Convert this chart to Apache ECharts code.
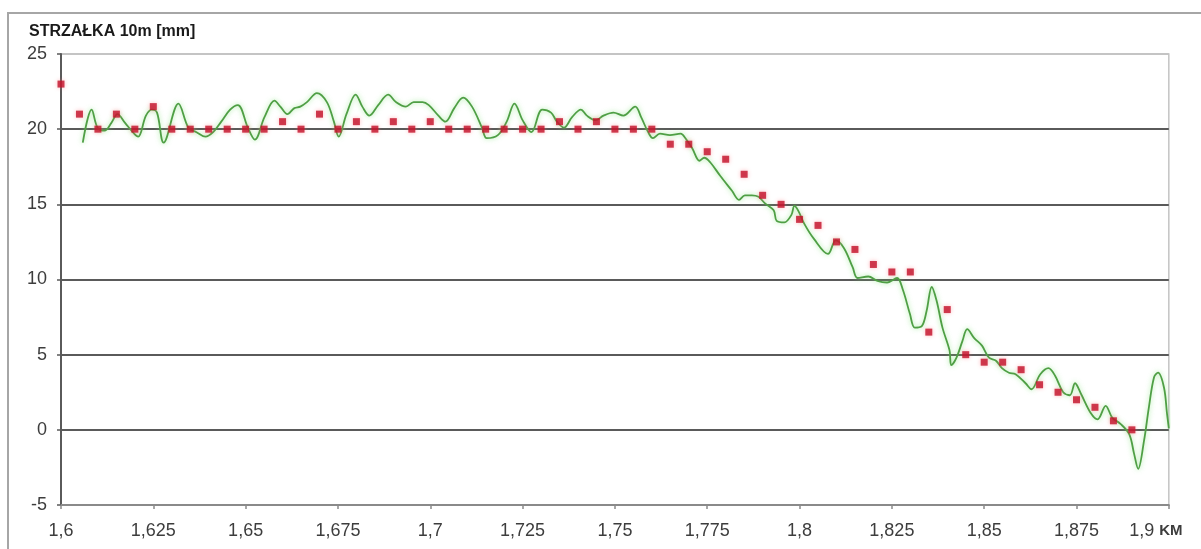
<!DOCTYPE html>
<html>
<head>
<meta charset="utf-8">
<script src="https://cdn.jsdelivr.net/npm/echarts@6/dist/echarts.min.js"></script>
<style>
  html, body { margin: 0; padding: 0; background: #fff; }
  #chart { width: 1201px; height: 549px; }
</style>
</head>
<body>
<div id="chart"></div>
<script>
// Design versine on a 10 m chord: point values every 5 m
const designKm = [
  1.600, 1.605, 1.610, 1.615, 1.620, 1.625, 1.630, 1.635, 1.640, 1.645,
  1.650, 1.655, 1.660, 1.665, 1.670, 1.675, 1.680, 1.685, 1.690, 1.695,
  1.700, 1.705, 1.710, 1.715, 1.720, 1.725, 1.730, 1.735, 1.740, 1.745,
  1.750, 1.755, 1.760, 1.765, 1.770, 1.775, 1.780, 1.785, 1.790, 1.795,
  1.800, 1.805, 1.810, 1.815, 1.820, 1.825, 1.830, 1.835, 1.840, 1.845,
  1.850, 1.855, 1.860, 1.865, 1.870, 1.875, 1.880, 1.885, 1.890
];
const designMm = [
  23, 21, 20, 21, 20, 21.5, 20, 20, 20, 20,
  20, 20, 20.5, 20, 21, 20, 20.5, 20, 20.5, 20,
  20.5, 20, 20, 20, 20, 20, 20, 20.5, 20, 20.5,
  20, 20, 20, 19, 19, 18.5, 18, 17, 15.6, 15,
  14, 13.6, 12.5, 12, 11, 10.5, 10.5, 6.5, 8, 5,
  4.5, 4.5, 4, 3, 2.5, 2, 1.5, 0.6, 0
];

// Measured versine trace
const measuredKm = [
  1.6059, 1.6083, 1.6099, 1.6118, 1.6136, 1.6153, 1.6174, 1.6198, 1.6209, 1.6230,
  1.6246, 1.6260, 1.6278, 1.6318, 1.6345, 1.6367, 1.6391, 1.6412, 1.6434, 1.6458,
  1.6479, 1.6506, 1.6525, 1.6551, 1.6578, 1.6594, 1.6613, 1.6632, 1.6648, 1.6666,
  1.6693, 1.6720, 1.6739, 1.6752, 1.6773, 1.6798, 1.6816, 1.6835, 1.6859, 1.6886,
  1.6907, 1.6934, 1.6955, 1.6979, 1.6996, 1.7022, 1.7041, 1.7065, 1.7089, 1.7113,
  1.7140, 1.7153, 1.7183, 1.7207, 1.7228, 1.7250, 1.7274, 1.7303, 1.7327, 1.7343,
  1.7362, 1.7384, 1.7408, 1.7424, 1.7448, 1.7469, 1.7496, 1.7523, 1.7555, 1.7571,
  1.7590, 1.7603, 1.7622, 1.7649, 1.7678, 1.7691, 1.7710, 1.7729, 1.7742, 1.7758,
  1.7785, 1.7817, 1.7836, 1.7852, 1.7871, 1.7889, 1.7905, 1.7930, 1.7938, 1.7959,
  1.7978, 1.7986, 1.7996, 1.8013, 1.8039, 1.8077, 1.8098, 1.8120, 1.8144, 1.8157,
  1.8186, 1.8211, 1.8237, 1.8264, 1.8280, 1.8299, 1.8312, 1.8331, 1.8344, 1.8358,
  1.8371, 1.8387, 1.8406, 1.8411, 1.8425, 1.8441, 1.8454, 1.8473, 1.8494, 1.8513,
  1.8532, 1.8548, 1.8567, 1.8585, 1.8612, 1.8628, 1.8652, 1.8674, 1.8692, 1.8714,
  1.8732, 1.8746, 1.8762, 1.8789, 1.8807, 1.8829, 1.8847, 1.8869, 1.8893, 1.8906,
  1.8917, 1.8933, 1.8946, 1.8960, 1.8971, 1.8987, 1.8995, 1.9000
];
const measuredMm = [
  19.1, 21.3, 20.1, 19.9, 20.4, 21.0, 20.4, 19.7, 19.5, 20.9,
  21.3, 21.1, 19.1, 21.7, 20.1, 19.8, 19.5, 19.8, 20.5, 21.3,
  21.6, 20.1, 19.3, 20.8, 21.9, 21.5, 21.0, 21.4, 21.5, 21.8,
  22.4, 21.8, 20.5, 19.5, 21.0, 22.3, 21.5, 20.9, 21.6, 22.3,
  21.8, 21.5, 21.8, 21.8, 21.6, 20.9, 20.5, 21.4, 22.1, 21.5,
  20.1, 19.4, 19.6, 20.5, 21.7, 20.6, 19.8, 21.3, 21.1, 20.5,
  20.1, 20.8, 21.3, 20.9, 20.6, 20.9, 21.1, 20.9, 21.5, 20.8,
  19.8, 19.4, 19.7, 19.6, 19.7, 19.4, 18.7, 17.9, 18.1, 17.8,
  16.9, 15.9, 15.3, 15.6, 15.6, 15.5, 15.1, 14.6, 13.9, 13.8,
  14.3, 14.9, 14.6, 13.7, 12.7, 11.7, 12.6, 12.1, 10.8, 10.1,
  10.2, 9.9, 9.8, 10.1, 9.3, 7.7, 6.8, 6.9, 7.9, 9.5,
  8.6, 6.8, 5.3, 4.3, 4.8, 5.9, 6.7, 6.1, 5.6, 4.8,
  4.6, 4.1, 3.8, 3.7, 3.1, 2.7, 3.7, 4.1, 3.6, 2.5,
  2.3, 3.1, 2.4, 1.1, 0.7, 1.6, 0.8, 0.4, -0.3, -1.6,
  -2.6, -0.7, 1.5, 3.5, 3.8, 2.8, 1.1, 0.1
];

const yTicks = [-5, 0, 5, 10, 15, 20, 25];
const titleText = 'STRZAŁKA 10m [mm]';
const unitText = 'KM';

const pair = (xs, ys) => xs.map((x, i) => [x, ys[i]]);
const kmLabel = v => String(Number(v.toFixed(3))).replace('.', ',');

const chart = echarts.init(document.getElementById('chart'), null, { renderer: 'canvas' });

chart.setOption({
  animation: false,
  backgroundColor: '#ffffff',
  textStyle: { fontFamily: 'Liberation Sans, Arial, sans-serif' },
  title: {
    text: titleText,
    left: 24,
    top: 19,
    textStyle: { fontSize: 16, fontWeight: 'bold', color: '#1a1a1a', fontFamily: 'Liberation Sans, Arial, sans-serif' }
  },
  graphic: [{
    type: 'rect',
    silent: true,
    shape: { x: 8, y: 13, width: 1300, height: 700 },
    style: { fill: 'none', stroke: '#a6a6a6', lineWidth: 2 },
    z: -1
  }],
  grid: {
    left: 61, right: 19, top: 54, bottom: 44,
    show: true, borderColor: '#c4c4c4', borderWidth: 1.5, backgroundColor: 'transparent'
  },
  xAxis: {
    type: 'value',
    min: 1.6, max: 1.9, interval: 0.025,
    axisLine: { show: true, onZero: false, lineStyle: { color: '#8a8a8a', width: 2 } },
    axisTick: { show: true, length: 4, lineStyle: { color: '#8a8a8a', width: 1.5 } },
    splitLine: { show: false },
    axisLabel: {
      margin: 17,
      fontSize: 18,
      color: '#3d3d3d',
      formatter: v => Math.abs(v - 1.9) < 1e-9 ? kmLabel(v) + ' {km|' + unitText + '}{pad| }' : kmLabel(v),
      rich: {
        km: { fontSize: 15, fontWeight: 'bold', color: '#3d3d3d', padding: [0, 0, 1, 0] },
        pad: { width: 26 }
      }
    }
  },
  yAxis: {
    type: 'value',
    min: yTicks[0], max: yTicks[yTicks.length - 1], interval: 5,
    axisLine: { show: true, lineStyle: { color: '#5a5a5a', width: 2 } },
    axisTick: { show: true, length: 4, lineStyle: { color: '#5a5a5a', width: 1.5 } },
    splitLine: {
      show: true,
      lineStyle: { color: ['#8a8a8a', '#5a5a5a', '#5a5a5a', '#5a5a5a', '#5a5a5a', '#5a5a5a', '#c4c4c4'], width: 2 }
    },
    axisLabel: { margin: 14, fontSize: 18, color: '#3d3d3d' }
  },
  series: [
    {
      name: 'pomiar',
      type: 'line',
      data: pair(measuredKm, measuredMm),
      smooth: 0.35,
      showSymbol: false,
      lineStyle: {
        color: '#4f9f45', width: 1.8,
        shadowColor: 'rgba(120, 225, 110, 0.7)', shadowBlur: 5
      },
      z: 2
    },
    {
      name: 'projekt',
      type: 'scatter',
      data: pair(designKm, designMm),
      symbol: 'rect',
      symbolSize: 7,
      itemStyle: {
        color: '#c20f28',
        shadowColor: 'rgba(255, 110, 120, 0.6)', shadowBlur: 4
      },
      z: 3
    }
  ]
});
</script>
</body>
</html>
